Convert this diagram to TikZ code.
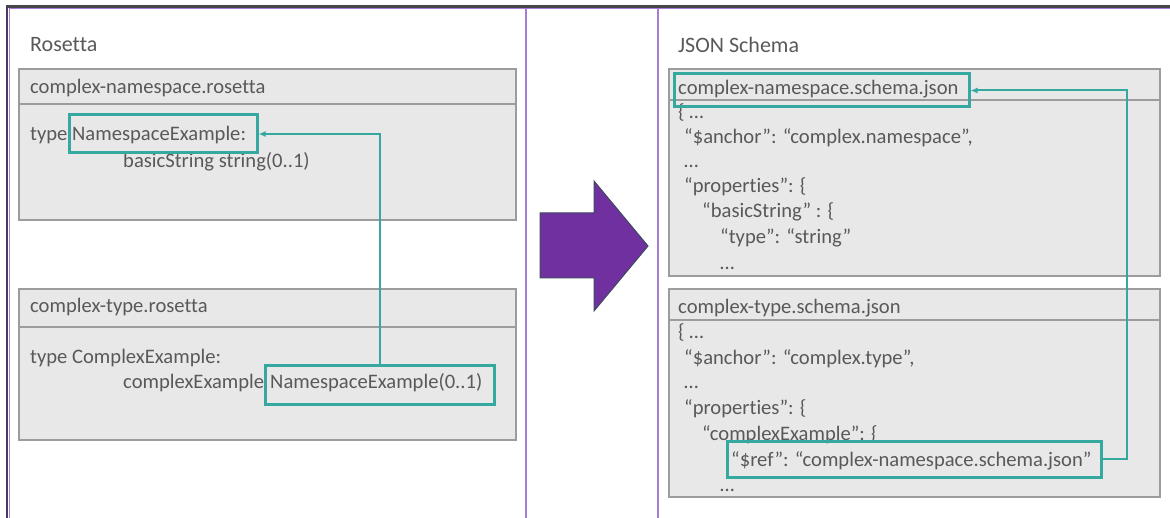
\documentclass[tikz,border=0pt]{standalone}
\usepackage{fontspec}
\setmainfont[Ligatures={NoCommon}]{Carlito}
\usetikzlibrary{fit,arrows.meta}
\definecolor{txtgray}{HTML}{595959}
\definecolor{boxfill}{HTML}{E8E8E8}
\definecolor{boxedge}{HTML}{9C9C9C}
\definecolor{teal2}{HTML}{35A89F}
\definecolor{lilac}{HTML}{A67DD4}
\definecolor{darkpurple}{HTML}{4C3A63}
\definecolor{arrowfill}{HTML}{7030A0}
\definecolor{arrowedge}{HTML}{3E4A5E}
\tikzset{
  txt/.style={anchor=base west, inner sep=0pt, text=txtgray, font=\fontsize{20.6}{24}\selectfont},
  heading/.style={txt, font=\fontsize{22}{26}\selectfont},
  filebox/.style={draw=boxedge, fill=boxfill, line width=1.5pt, inner sep=0pt},
  sepline/.style={draw=boxedge, line width=1.5pt},
  tealbox/.style={draw=teal2, line width=3pt, inner sep=0pt},
  link/.style={draw=teal2, line width=2pt, -{Latex[length=7pt,width=6pt]}},
  frame/.style={draw=lilac, line width=2pt},
}
\begin{document}
\begin{tikzpicture}[x=1pt,y=-1pt]
\useasboundingbox (0,0) rectangle (1170,518);

% page frame and column dividers
\draw[line width=2.5pt, color=black!72] (6,6.5) -- (1170,6.5);
\draw[frame, line width=1.2pt] (9,8.6) -- (1170,8.6);
\draw[line width=1.5pt, color=darkpurple] (7.2,6) -- (7.2,518);
\draw[frame, line width=1.2pt] (9.2,8) -- (9.2,518);
\draw[frame] (525.5,8) -- (525.5,518);
\draw[frame] (657.5,8) -- (657.5,518);

% transformation arrow
\draw[fill=arrowfill, draw=arrowedge, line width=1pt, line join=miter]
  (540,213) -- (594,213) -- (594,181) -- (648,246) -- (594,311) -- (594,278) -- (540,278) -- cycle;

% ---------------- Rosetta ----------------
\node[heading] (hRos) at (30,52) {Rosetta};

\node[filebox, fit={(19,69) (516,220)}] (b1) {};
\draw[sepline] (b1.west |- 0,104) -- (b1.east |- 0,104);
\node[txt] (b1t) at (30,94) {complex-namespace.rosetta};
\node[txt] (b1l1) at (30,141) {type NamespaceExample:};
\node[txt] (b1l2) at (123,168) {basicString string(0..1)};

\node[filebox, fit={(19,289) (516,440)}] (b2) {};
\draw[sepline] (b2.west |- 0,327) -- (b2.east |- 0,327);
\node[txt] (b2t) at (30,313) {complex-type.rosetta};
\node[txt] (b2l1) at (30,364) {type ComplexExample:};
\node[txt] (b2l2) at (123,389) {complexExample};
\node[txt] (b2l3) at (270,389) {NamespaceExample(0..1)};

\node[tealbox, fit={(69,115) (257,153)}] (t1) {};
\node[tealbox, fit={(265,366) (494,405)}] (t2) {};
\draw[link] (t2.north) |- (t1.east);

% ---------------- JSON Schema ----------------
\node[heading] (hJson) at (678,53) {JSON Schema};

\node[filebox, fit={(669,69) (1160,276)}] (b3) {};
\draw[sepline] (b3.west |- 0,100) -- (b3.east |- 0,100);
\node[txt] (b3t) at (678,95) {complex-namespace.schema.json};
\node[txt] (b3l1) at (678,119) {\{ …};
\node[txt] (b3l2) at (684,144) {“\$anchor”: “complex.namespace”,};
\node[txt] (b3l3) at (684,168) {…};
\node[txt] (b3l4) at (684,193) {“properties”: \{};
\node[txt] (b3l5) at (702,218) {“basicString” : \{};
\node[txt] (b3l6) at (720,244) {“type”: “string”};
\node[txt] (b3l7) at (720,270) {…};

\node[filebox, fit={(669,289) (1160,497)}] (b4) {};
\draw[sepline] (b4.west |- 0,320) -- (b4.east |- 0,320);
\node[txt] (b4t) at (678,314) {complex-type.schema.json};
\node[txt] (b4l1) at (678,339) {\{ …};
\node[txt] (b4l2) at (684,365) {“\$anchor”: “complex.type”,};
\node[txt] (b4l3) at (684,389) {…};
\node[txt] (b4l4) at (684,414) {“properties”: \{};
\node[txt] (b4l5) at (702,440) {“complexExample”: \{};
\node[txt] (b4l6) at (731,466) {“\$ref”: “complex-namespace.schema.json”};
\node[txt] (b4l7) at (720,491) {…};

\node[tealbox, fit={(674,74) (969,107)}] (t3) {};
\node[tealbox, fit={(727,441) (1101,477)}] (t4) {};
\coordinate (bend) at (1127,459);
\draw[link] (t4.east) -- (bend |- t4.east) |- (t3.east);

\end{tikzpicture}
\end{document}
